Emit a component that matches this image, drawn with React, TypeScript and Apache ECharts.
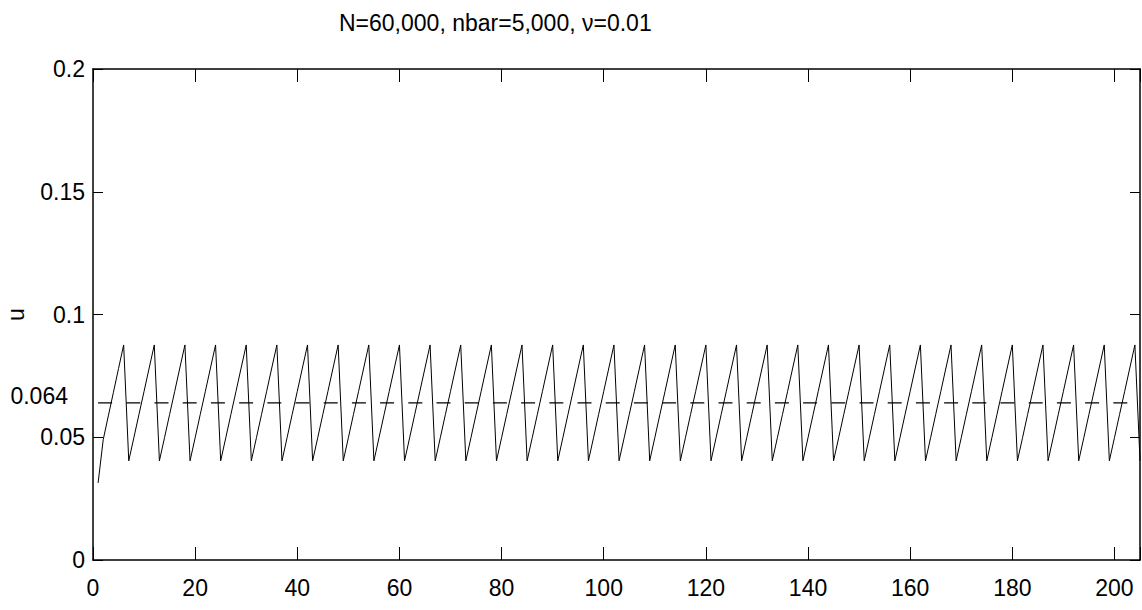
import React, { useEffect, useRef } from "react";
import * as echarts from "echarts";

const titleText = "N=60,000, nbar=5,000, ν=0.01";
const yName = "u";
const xTicks = [0, 20, 40, 60, 80, 100, 120, 140, 160, 180, 200];
const yTicks = [0, 0.05, 0.1, 0.15, 0.2];
const meanLevel = 0.064;
const meanLabel = "0.064";
const meanSpan = [1, 205];

// u at time steps 1..205
const uValues = [
  0.0314, 0.0490, 0.0587, 0.0683, 0.0780, 0.0876,
  0.0404, 0.0498, 0.0593, 0.0687, 0.0782, 0.0876,
  0.0404, 0.0498, 0.0593, 0.0687, 0.0782, 0.0876,
  0.0404, 0.0498, 0.0593, 0.0687, 0.0782, 0.0876,
  0.0404, 0.0498, 0.0593, 0.0687, 0.0782, 0.0876,
  0.0404, 0.0498, 0.0593, 0.0687, 0.0782, 0.0876,
  0.0404, 0.0498, 0.0593, 0.0687, 0.0782, 0.0876,
  0.0404, 0.0498, 0.0593, 0.0687, 0.0782, 0.0876,
  0.0404, 0.0498, 0.0593, 0.0687, 0.0782, 0.0876,
  0.0404, 0.0498, 0.0593, 0.0687, 0.0782, 0.0876,
  0.0404, 0.0498, 0.0593, 0.0687, 0.0782, 0.0876,
  0.0404, 0.0498, 0.0593, 0.0687, 0.0782, 0.0876,
  0.0404, 0.0498, 0.0593, 0.0687, 0.0782, 0.0876,
  0.0404, 0.0498, 0.0593, 0.0687, 0.0782, 0.0876,
  0.0404, 0.0498, 0.0593, 0.0687, 0.0782, 0.0876,
  0.0404, 0.0498, 0.0593, 0.0687, 0.0782, 0.0876,
  0.0404, 0.0498, 0.0593, 0.0687, 0.0782, 0.0876,
  0.0404, 0.0498, 0.0593, 0.0687, 0.0782, 0.0876,
  0.0404, 0.0498, 0.0593, 0.0687, 0.0782, 0.0876,
  0.0404, 0.0498, 0.0593, 0.0687, 0.0782, 0.0876,
  0.0404, 0.0498, 0.0593, 0.0687, 0.0782, 0.0876,
  0.0404, 0.0498, 0.0593, 0.0687, 0.0782, 0.0876,
  0.0404, 0.0498, 0.0593, 0.0687, 0.0782, 0.0876,
  0.0404, 0.0498, 0.0593, 0.0687, 0.0782, 0.0876,
  0.0404, 0.0498, 0.0593, 0.0687, 0.0782, 0.0876,
  0.0404, 0.0498, 0.0593, 0.0687, 0.0782, 0.0876,
  0.0404, 0.0498, 0.0593, 0.0687, 0.0782, 0.0876,
  0.0404, 0.0498, 0.0593, 0.0687, 0.0782, 0.0876,
  0.0404, 0.0498, 0.0593, 0.0687, 0.0782, 0.0876,
  0.0404, 0.0498, 0.0593, 0.0687, 0.0782, 0.0876,
  0.0404, 0.0498, 0.0593, 0.0687, 0.0782, 0.0876,
  0.0404, 0.0498, 0.0593, 0.0687, 0.0782, 0.0876,
  0.0404, 0.0498, 0.0593, 0.0687, 0.0782, 0.0876,
  0.0404, 0.0498, 0.0593, 0.0687, 0.0782, 0.0876,
  0.0404,
];

const FONT = "'Liberation Sans', Arial, Helvetica, sans-serif";
const X_MIN = 0;
const X_MAX = 205;
const X_STEP = xTicks[1] - xTicks[0];
const Y_MIN = yTicks[0];
const Y_MAX = yTicks[yTicks.length - 1];
const Y_STEP = yTicks[1] - yTicks[0];

export default function App() {
  const ref = useRef<HTMLDivElement>(null);
  useEffect(() => {
    if (!ref.current) return;
    const chart = echarts.init(ref.current, null, { renderer: "svg" });
    const lineData = uValues.map((v, i) => [i + 1, v]);
    const meanData = meanSpan.map((t) => [t, meanLevel]);
    const axisLine = { show: true, onZero: false, lineStyle: { color: "#000", width: 1.5 } };
    const tickStyle = { color: "#000", width: 1 };
    const label = { color: "#000", fontSize: 23, fontFamily: FONT };
    chart.setOption({
      animation: false,
      backgroundColor: "#fff",
      title: {
        text: titleText,
        left: 334,
        top: 6,
        textStyle: { color: "#000", fontSize: 23, fontWeight: "normal", fontFamily: FONT },
      },
      grid: { left: 93, right: 2, top: 69, bottom: 50, containLabel: false, outerBoundsMode: "none" },
      xAxis: [
        {
          type: "value",
          position: "bottom",
          min: X_MIN,
          max: X_MAX,
          interval: X_STEP,
          axisLine,
          axisTick: { show: true, inside: true, length: 13, lineStyle: tickStyle },
          axisLabel: { ...label, margin: 16, customValues: xTicks },
          splitLine: { show: false },
        },
        {
          type: "value",
          position: "top",
          min: X_MIN,
          max: X_MAX,
          interval: X_STEP,
          axisLine,
          axisTick: { show: true, inside: true, length: 13, lineStyle: tickStyle },
          axisLabel: { show: false },
          splitLine: { show: false },
        },
      ],
      yAxis: [
        {
          type: "value",
          position: "left",
          min: Y_MIN,
          max: Y_MAX,
          interval: Y_STEP,
          name: yName,
          nameLocation: "middle",
          nameRotate: 90,
          nameGap: 66,
          nameTextStyle: { color: "#000", fontSize: 23, fontFamily: FONT },
          axisLine,
          axisTick: { show: true, inside: true, length: 10, lineStyle: tickStyle },
          axisLabel: { ...label, margin: 8 },
          splitLine: { show: false },
        },
        {
          type: "value",
          position: "right",
          min: Y_MIN,
          max: Y_MAX,
          interval: Y_STEP,
          axisLine,
          axisTick: { show: true, inside: true, length: 10, lineStyle: tickStyle },
          axisLabel: { show: false },
          splitLine: { show: false },
        },
      ],
      series: [
        {
          type: "line",
          data: lineData,
          xAxisIndex: 0,
          yAxisIndex: 0,
          showSymbol: false,
          symbol: "none",
          lineStyle: { color: "#000", width: 1 },
        },
        {
          type: "line",
          data: meanData,
          xAxisIndex: 0,
          yAxisIndex: 0,
          showSymbol: false,
          symbol: "none",
          lineStyle: { color: "#000", width: 1.2, type: [14, 14.2] },
          z: 1,
        },
      ],
    });
    const yPix = chart.convertToPixel({ yAxisIndex: 0 }, meanLevel) as number;
    chart.setOption({
      graphic: [
        {
          type: "text",
          x: 68,
          y: yPix - 7,
          style: {
            text: meanLabel,
            fill: "#000",
            fontSize: 23,
            fontFamily: FONT,
            align: "right",
            verticalAlign: "middle",
          },
        },
      ],
    });
    return () => chart.dispose();
  }, []);
  return (
    <div
      ref={ref}
      style={{ position: "fixed", left: 0, top: 0, width: 1142, height: 610, background: "#fff" }}
    />
  );
}
